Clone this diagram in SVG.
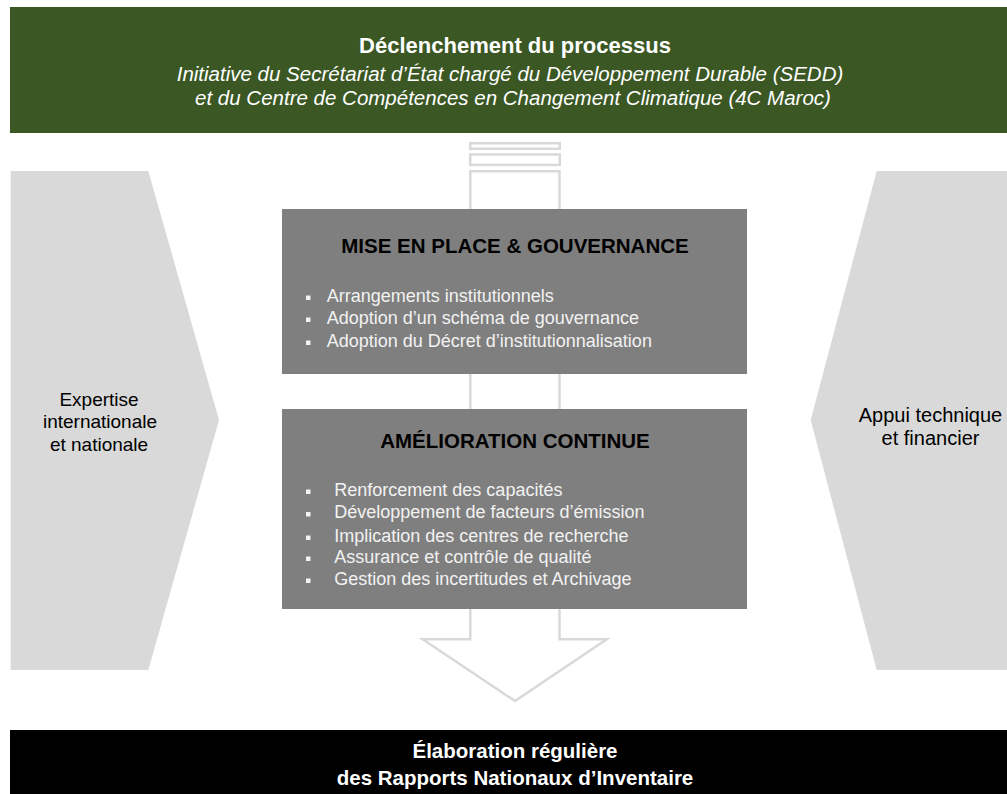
<svg xmlns="http://www.w3.org/2000/svg" width="1007" height="794" viewBox="0 0 1007 794">
<style>
text{font-family:"Liberation Sans",Arial,sans-serif}
.hdr{fill:#ffffff;text-anchor:middle}
.t{font-weight:bold;font-size:22px}
.it{font-style:italic;font-size:20.5px}
.side{fill:#d9d9d9}
.sidet{fill:#000000;font-size:19px;text-anchor:middle}
.box{fill:#7f7f7f}
.bt{fill:#000000;font-weight:bold;font-size:20.5px;text-anchor:middle}
.bl{fill:#f2f2f2;font-size:18px}
.sq{fill:#f2f2f2}
.arr{fill:none;stroke:#d9d9d9;stroke-width:2.5}
.ft{fill:#ffffff;font-weight:bold;font-size:20.5px;text-anchor:middle}
</style>
<rect width="1007" height="794" fill="#ffffff"/>
<g id="connectors">
<rect class="arr" x="470.2" y="143.2" width="89.6" height="5.6"/>
<rect class="arr" x="470.2" y="154.5" width="89.6" height="10.4"/>
<path class="arr" d="M470.3,639.3 L470.3,171.2 L559.5,171.2 L559.5,639.3 L606.7,639.3 L515,701 L422.7,639.3 Z"/>
</g>
<g id="header">
<rect x="10" y="7" width="997" height="126" fill="#3b5724"/>
<text class="hdr t" x="515" y="53">Déclenchement du processus</text>
<text class="hdr it" x="510" y="81.3">Initiative du Secrétariat d’État chargé du Développement Durable (SEDD)</text>
<text class="hdr it" x="513" y="104.7">et du Centre de Compétences en Changement Climatique (4C Maroc)</text>
</g>
<g id="left">
<polygon class="side" points="10.7,171 148.3,171 219,420 148.3,670 10.7,670"/>
<text class="sidet" x="99" y="405.5">Expertise</text>
<text class="sidet" x="100" y="428">internationale</text>
<text class="sidet" x="99" y="450.5">et nationale</text>
</g>
<g id="right">
<polygon class="side" points="876.7,171 1007,171 1007,670 876.7,670 810.7,420"/>
<text class="sidet" x="930.5" y="422" style="font-size:20px">Appui technique</text>
<text class="sidet" x="930.5" y="444.5" style="font-size:20px">et financier</text>
</g>
<g id="box1">
<rect class="box" x="282" y="209" width="465" height="165"/>
<text class="bt" x="515" y="253">MISE EN PLACE &amp; GOUVERNANCE</text>
<rect class="sq" x="306" y="295.5" width="4.5" height="4.5"/>
<text class="bl" x="326.7" y="301.7">Arrangements institutionnels</text>
<rect class="sq" x="306" y="317.5" width="4.5" height="4.5"/>
<text class="bl" x="326.7" y="323.5">Adoption d’un schéma de gouvernance</text>
<rect class="sq" x="306" y="340.5" width="4.5" height="4.5"/>
<text class="bl" x="326.7" y="346.7">Adoption du Décret d’institutionnalisation</text>
</g>
<g id="box2">
<rect class="box" x="282" y="409" width="465" height="200"/>
<text class="bt" x="515" y="447.7">AMÉLIORATION CONTINUE</text>
<rect class="sq" x="306" y="489.5" width="4.5" height="4.5"/>
<text class="bl" x="334.3" y="496">Renforcement des capacités</text>
<rect class="sq" x="306" y="512" width="4.5" height="4.5"/>
<text class="bl" x="334.3" y="518.3">Développement de facteurs d’émission</text>
<rect class="sq" x="306" y="535.5" width="4.5" height="4.5"/>
<text class="bl" x="334.3" y="541.7">Implication des centres de recherche</text>
<rect class="sq" x="306" y="556.5" width="4.5" height="4.5"/>
<text class="bl" x="334.3" y="562.7">Assurance et contrôle de qualité</text>
<rect class="sq" x="306" y="578.5" width="4.5" height="4.5"/>
<text class="bl" x="334.3" y="585">Gestion des incertitudes et Archivage</text>
</g>
<g id="footer">
<rect x="10" y="730" width="997" height="64" fill="#000000"/>
<text class="ft" x="515" y="758">Élaboration régulière</text>
<text class="ft" x="515" y="785">des Rapports Nationaux d’Inventaire</text>
</g>
</svg>
